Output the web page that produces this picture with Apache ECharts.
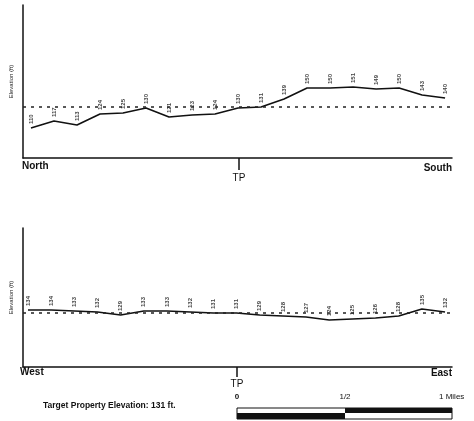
<!DOCTYPE html>
<html><head><meta charset="utf-8">
<script src="https://cdn.jsdelivr.net/npm/echarts@6/dist/echarts.min.js"></script>
<style>html,body{margin:0;padding:0;background:#fff}#c{width:474px;height:421px}</style>
</head><body><div id="c"></div>
<script>
// Elevation profiles (ft), points along each transect
const nsElev = [110,117,113,124,125,130,121,123,124,130,131,139,150,150,151,149,150,143,140];
const weElev = [134,134,133,132,129,133,133,132,131,131,129,128,127,124,125,126,128,135,132];
const targetElevation = 131;
const nsEnds = ['North','South'];
const weEnds = ['West','East'];
const scaleLabels = ['0','1/2','1 Miles'];

const chart = echarts.init(document.getElementById('c'));
const toPts = arr => arr.map((v,i)=>[i,v]);
const F = '"Liberation Sans", Arial, sans-serif';

function series(idx, data){
  return {
    type:'line', xAxisIndex:idx, yAxisIndex:idx, data:toPts(data),
    showSymbol:true, symbol:'circle', symbolSize:0,
    itemStyle:{color:'#111'},
    lineStyle:{color:'#111', width:1.6},
    label:{show:true, position:'top', distance:4, rotate:90, align:'left', verticalAlign:'middle',
      fontSize:6, fontWeight:'bold', color:'#444', fontFamily:F, formatter:p=>p.value[1]},
    labelLayout:{hideOverlap:false},
    markLine:{silent:true, symbol:'none', label:{show:false},
      lineStyle:{color:'#222', type:[3,5], width:1.6},
      data:[{yAxis:targetElevation}]}
  };
}
function yAx(idx,min,max){
  return {gridIndex:idx, type:'value', min, max, splitLine:{show:false},
    axisLine:{show:true, onZero:false, lineStyle:{color:'#111', width:1.5}}, axisTick:{show:false}, axisLabel:{show:false},
    name:'Elevation (ft)', nameLocation:'middle', nameGap:9, nameRotate:90,
    nameTextStyle:{fontSize:6, color:'#222', fontFamily:F}};
}
function xAx(idx,min,max){
  return {gridIndex:idx, type:'value', min, max, splitLine:{show:false},
    axisLine:{show:true, onZero:false, lineStyle:{color:'#111', width:1.5}}, axisTick:{show:false}, axisLabel:{show:false}};
}
const bold = {fontFamily:F, fontWeight:'bold', fontSize:9, fill:'#111'};
function txt(x,y,t,align,extra){return {type:'text', x, y, style:Object.assign({}, bold, {text:t, align:align||'left', verticalAlign:'middle'}, extra||{})};}

chart.setOption({
  animation:false,
  grid:[{left:22, right:22, top:5, height:153},{left:22, right:22, top:228, height:139}],
  xAxis:[xAx(0,-0.347,18.3), xAx(1,-0.215,18.3)],
  yAxis:[yAx(0,80,233), yAx(1,77,216)],
  series:[series(0,nsElev), series(1,weElev)],
  graphic:[
    txt(22,166,nsEnds[0],'left',{fontSize:10}), txt(452,168,nsEnds[1],'right',{fontSize:10}),
    {type:'line', shape:{x1:239,y1:158,x2:239,y2:170}, style:{stroke:'#111', lineWidth:1.5}},
    txt(239,178,'TP','center',{fontWeight:'normal', fontSize:10}),
    txt(20,372,weEnds[0],'left',{fontSize:10}), txt(452,373,weEnds[1],'right',{fontSize:10}),
    {type:'line', shape:{x1:237,y1:367,x2:237,y2:377}, style:{stroke:'#111', lineWidth:1.5}},
    txt(237,384,'TP','center',{fontWeight:'normal', fontSize:10}),
    txt(43,406,'Target Property Elevation: ' + targetElevation + ' ft.','left',{fontSize:8.5}),
    txt(237,397,scaleLabels[0],'center',{fontSize:8}),
    txt(345,397,scaleLabels[1],'center',{fontSize:8,fontWeight:'normal'}),
    txt(439,397,scaleLabels[2],'left',{fontSize:8,fontWeight:'normal'}),
    {type:'rect', shape:{x:237,y:408,width:215,height:11}, style:{fill:'#fff', stroke:'#111', lineWidth:1}},
    {type:'rect', shape:{x:345,y:408,width:107,height:5}, style:{fill:'#111'}},
    {type:'rect', shape:{x:237,y:413,width:108,height:6}, style:{fill:'#111'}}
  ]
});
</script></body></html>
